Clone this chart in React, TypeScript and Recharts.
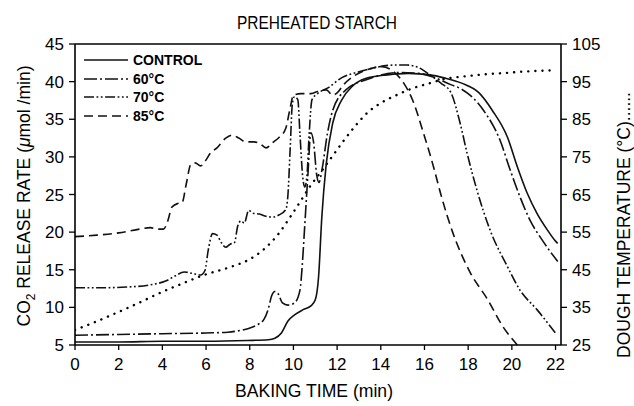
import React from 'react';
import { LineChart, Line, XAxis, YAxis, ReferenceLine } from 'recharts';

// [baking time (min), CO2 release rate (umol/min)]
const CONTROL: [number, number][] = [
  [0, 5.4], [2, 5.4], [4, 5.5], [6, 5.5], [7.9, 5.6], [8.85, 5.7], [9.15, 5.9], [9.45, 6.6],
  [9.75, 8.2], [10.05, 9.0], [10.45, 9.7], [10.8, 10.2], [11.0, 11.0], [11.15, 14], [11.3, 22],
  [11.5, 29], [11.8, 34.5], [12.2, 37.5], [12.7, 39.4], [13.3, 40.4], [14.3, 40.9], [15.25, 41.1],
  [16.25, 40.9], [16.9, 40.5], [17.7, 39.8], [18.5, 38.5], [19.1, 36.2], [19.8, 32.6],
  [20.25, 28.7], [20.7, 25.2], [21.15, 22.5], [21.6, 20.4], [22.0, 18.8], [22.1, 18.5],
];

const C60: [number, number][] = [
  [0, 6.3], [2, 6.4], [4, 6.5], [6, 6.6], [7, 6.7], [7.5, 6.9], [7.95, 7.2], [8.35, 7.7],
  [8.65, 8.4], [8.85, 9.8], [9.0, 11.5], [9.15, 12.1], [9.3, 11.8], [9.5, 10.6], [9.75, 10.3],
  [10.05, 10.6], [10.3, 12.3], [10.4, 15.4], [10.5, 20], [10.65, 27], [10.8, 33.2], [10.92, 32],
  [11.07, 27.5], [11.17, 26.6], [11.32, 28.5], [11.55, 33], [11.8, 36.2], [12.4, 38.9],
  [13.4, 40.3], [14.75, 41.2], [15.75, 41.1], [16.4, 40.6], [17.2, 39.6], [17.7, 39.0],
  [18.7, 36.2], [19.46, 32.2], [19.92, 28.3], [20.37, 24.7], [20.83, 21.6], [21.4, 18.9],
  [22.1, 16.1],
];

const C70: [number, number][] = [
  [0, 12.6], [1, 12.6], [2.35, 12.7], [3.45, 13.0], [4.15, 13.5], [4.6, 14.2], [5.0, 14.7],
  [5.4, 14.5], [5.75, 14.3], [5.95, 14.9], [6.1, 17.6], [6.3, 19.8], [6.5, 19.6], [6.7, 18.6],
  [6.9, 18.0], [7.1, 18.4], [7.3, 18.6], [7.45, 20.8], [7.6, 21.5], [7.75, 21.2], [7.95, 22.9],
  [8.15, 22.5], [8.45, 22.4], [8.75, 22.1], [9.05, 22.0], [9.35, 22.3], [9.65, 23.0],
  [9.75, 25], [9.85, 31], [9.95, 37], [10.05, 38.0], [10.2, 37.6], [10.3, 33], [10.42, 27.5],
  [10.52, 26], [10.62, 27.5], [10.72, 33], [10.85, 37.6], [11.1, 38.4], [11.6, 39.2],
  [12.2, 40.5], [13.0, 41.3], [13.8, 41.9], [14.6, 42.2], [15.2, 42.2], [15.7, 41.9],
  [16.25, 40.9], [16.75, 39.8], [17.2, 38.6], [17.63, 34.5], [17.95, 30.5], [18.4, 25.6],
  [19.0, 20.3], [19.8, 15.4], [20.37, 12.3], [21.15, 9.7], [22.05, 6.4],
];

const C85: [number, number][] = [
  [0, 19.4], [1, 19.6], [2, 19.9], [2.95, 20.4], [3.45, 20.6], [3.75, 20.4], [4.05, 20.4],
  [4.25, 21.5], [4.43, 23.3], [4.7, 23.8], [4.9, 23.9], [5.1, 26.5], [5.3, 29.0], [5.5, 29.2],
  [5.75, 28.8], [6.0, 29.6], [6.2, 30.5], [6.5, 31.2], [6.9, 32.5], [7.2, 32.9], [7.5, 32.5],
  [7.8, 32.0], [8.15, 32.0], [8.45, 31.8], [8.75, 31.2], [9.05, 31.9], [9.35, 32.6],
  [9.65, 33.8], [9.85, 36.5], [10.0, 38.2], [10.35, 38.4], [10.8, 38.4], [11.2, 38.8],
  [11.5, 38.9], [11.8, 38.2], [12.0, 38.5], [12.3, 39.6], [12.8, 40.8], [13.4, 41.6],
  [14.05, 42.0], [14.55, 41.4], [15.05, 39.8], [15.45, 37.6], [15.95, 33.2], [16.45, 28.3],
  [16.75, 25.0], [17.3, 19.9], [18.1, 14.6], [18.9, 11.0], [19.6, 7.4], [20.25, 5.0],
];

// [baking time (min), dough temperature (°C)]
const TEMP: [number, number][] = [
  [0, 29], [1, 31.3], [2, 33.8], [3, 36.4], [3.95, 39], [4.9, 41.3], [5.9, 43.6], [7.1, 45.7],
  [7.9, 47.5], [8.6, 50.2], [9.35, 54.8], [9.85, 59], [10.3, 63], [10.8, 67.5], [11.3, 71.3],
  [11.8, 75.3], [12.3, 79.3], [12.8, 83], [13.4, 86.8], [14.0, 89.3], [14.75, 91.5],
  [15.45, 93.2], [16.25, 94.6], [17.0, 95.8], [17.7, 96.3], [18.7, 96.9], [19.7, 97.3],
  [20.65, 97.7], [22.0, 98],
];

const X_TICKS = [0, 2, 4, 6, 8, 10, 12, 14, 16, 18, 20, 22];
const LEFT_TICKS = [5, 10, 15, 20, 25, 30, 35, 40, 45];
const RIGHT_TICKS = [25, 35, 45, 55, 65, 75, 85, 95, 105];

const SERIES = [
  { name: 'CONTROL', data: CONTROL, dash: undefined as string | undefined },
  { name: '60°C', data: C60, dash: '13 3 2 3' },
  { name: '70°C', data: C70, dash: '10 2.5 1.8 2.5 1.8 2.5' },
  { name: '85°C', data: C85, dash: '9 5' },
];

const toObj = (arr: [number, number][]) => arr.map(([t, v]) => ({ t, v }));

const FONT = '"Liberation Sans", Arial, Helvetica, sans-serif';
const tickStyle = { fill: '#000', fontSize: 17, fontFamily: FONT };

export default function App() {
  const legendY = [60, 79, 97, 116];
  return (
    <div style={{ position: 'absolute', left: 0, top: 0, width: 634, height: 406, background: '#fff' }}>
      <LineChart width={634} height={406} margin={{ top: 44, right: 0, bottom: 0, left: 0 }}>
        <XAxis
          dataKey="t"
          type="number"
          domain={[0, 22.25]}
          ticks={X_TICKS}
          allowDataOverflow
          height={61}
          tickSize={5}
          tickMargin={8}
          tick={tickStyle}
          axisLine={{ stroke: '#000', strokeWidth: 1.6 }}
          tickLine={{ stroke: '#000', strokeWidth: 1.3 }}
        />
        <YAxis
          yAxisId="l"
          orientation="left"
          type="number"
          domain={[5, 45]}
          ticks={LEFT_TICKS}
          width={75}
          tickSize={6}
          tickMargin={5}
          tick={tickStyle}
          axisLine={{ stroke: '#000', strokeWidth: 1.6 }}
          tickLine={{ stroke: '#000', strokeWidth: 1.3 }}
        />
        <YAxis
          yAxisId="r"
          orientation="right"
          type="number"
          domain={[25, 105]}
          ticks={RIGHT_TICKS}
          width={73}
          tickSize={6}
          tickMargin={5}
          tick={tickStyle}
          axisLine={{ stroke: '#000', strokeWidth: 1.6 }}
          tickLine={{ stroke: '#000', strokeWidth: 1.3 }}
        />
        <ReferenceLine yAxisId="l" y={45} stroke="#000" strokeWidth={1.6} />
        <Line
          yAxisId="r"
          data={toObj(TEMP)}
          dataKey="v"
          type="monotone"
          stroke="#000"
          strokeWidth={2.4}
          strokeDasharray="0.1 7"
          strokeLinecap="round"
          dot={false}
          activeDot={false}
          isAnimationActive={false}
        />
        {SERIES.map((s) => (
          <Line
            key={s.name}
            yAxisId="l"
            data={toObj(s.data)}
            dataKey="v"
            name={s.name}
            type="monotone"
            stroke="#111"
            strokeWidth={1.6}
            strokeDasharray={s.dash}
            dot={false}
            activeDot={false}
            isAnimationActive={false}
          />
        ))}
      </LineChart>
      <svg
        width={634}
        height={406}
        style={{ position: 'absolute', left: 0, top: 0, pointerEvents: 'none' }}
        fontFamily={FONT}
      >
        <text x={317} y={29} textAnchor="middle" fontSize={19} textLength={160} lengthAdjust="spacingAndGlyphs">
          PREHEATED STARCH
        </text>
        <text x={314} y={397} textAnchor="middle" fontSize={18} textLength={158} lengthAdjust="spacingAndGlyphs">
          BAKING TIME (min)
        </text>
        <text transform="translate(30,196) rotate(-90)" textAnchor="middle" fontSize={17.5}>
          CO<tspan fontSize={12} dy={5}>2</tspan>
          <tspan dy={-5}> RELEASE RATE (</tspan>
          <tspan fontStyle="italic">μ</tspan>mol /min)
        </text>
        <text transform="translate(630,225) rotate(-90)" textAnchor="middle" fontSize={17.5}>
          DOUGH TEMPERATURE (°C)......
        </text>
        {SERIES.map((s, i) => (
          <g key={s.name}>
            <line
              x1={84}
              x2={128}
              y1={legendY[i]}
              y2={legendY[i]}
              stroke="#111"
              strokeWidth={1.6}
              strokeDasharray={s.dash}
            />
            <text x={133} y={legendY[i] + 5} fontSize={14} fontWeight="bold">
              {s.name}
            </text>
          </g>
        ))}
      </svg>
    </div>
  );
}
